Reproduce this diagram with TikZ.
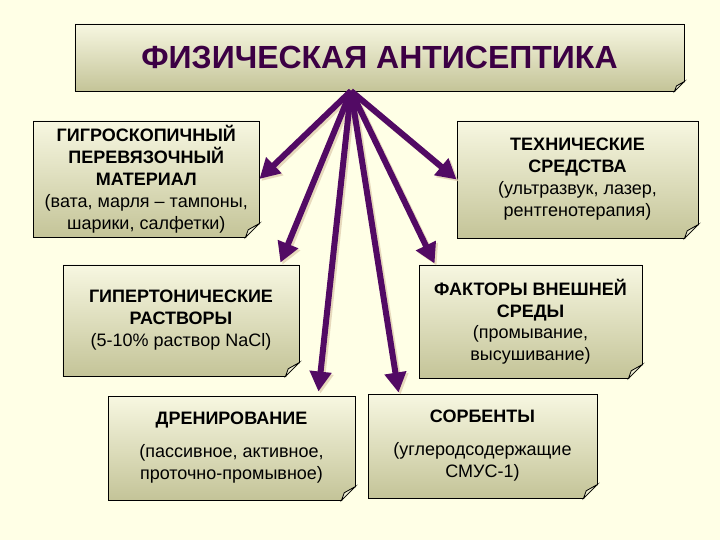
\documentclass[tikz,border=0pt]{standalone}
\usepackage{fontspec}
\setmainfont{Liberation Sans}
\usetikzlibrary{arrows.meta,calc}
\definecolor{bgc}{RGB}{255,255,230}
\definecolor{topc}{RGB}{247,247,225}
\definecolor{botc}{RGB}{196,196,152}
\definecolor{titlec}{RGB}{60,0,68}
\definecolor{arrc}{RGB}{82,10,100}
\definecolor{shadc}{RGB}{225,208,178}
\definecolor{flapc}{RGB}{238,238,212}
\tikzset{
  card/.style={draw=black, line width=0.9bp, top color=topc, bottom color=botc,
    inner sep=0pt, align=center, font=\fontsize{18bp}{22bp}\selectfont},
  arrowline/.style={draw=arrc, line width=6bp, -{Triangle[width=21bp,length=20bp]}},
  arrowshadow/.style={draw=shadc, line width=6bp, -{Triangle[width=21bp,length=20bp]}, opacity=0.8},
}
\newcommand\pagecurl[2]{%
  \fill[bgc] ($(#1.south east)+(-#2-0.5,1.5)$) -- ($(#1.south east)+(1.5,1.5)$) -- ($(#1.south east)+(1.5,-#2-0.5)$) -- cycle;
  \draw[line width=0.8bp, fill=flapc] ($(#1.south east)+(0,-#2)$) .. controls ($(#1.south east)+(-0.45*#2,-0.75*#2)$) .. ($(#1.south east)+(-0.8*#2,-0.55*#2)$) .. controls ($(#1.south east)+(-0.85*#2,-0.3*#2)$) .. ($(#1.south east)+(-#2,0)$) -- cycle;
}
\begin{document}
\begin{tikzpicture}[x=1bp,y=-1bp]
\fill[bgc] (0,0) rectangle (720,540);
\useasboundingbox (0,0) rectangle (720,540);

\node[card, minimum width=609bp, minimum height=67bp, text=titlec,
      font=\fontsize{32bp}{36bp}\selectfont\bfseries] (title) at (379.5,57.5) {ФИЗИЧЕСКАЯ АНТИСЕПТИКА};

\node[card, minimum width=225.5bp, minimum height=116bp] (b1) at (146.25,179)
  {\textbf{ГИГРОСКОПИЧНЫЙ}\\\textbf{ПЕРЕВЯЗОЧНЫЙ}\\\textbf{МАТЕРИАЛ}\\(вата, марля – тампоны,\\шарики, салфетки)};
\node[card, minimum width=241bp, minimum height=117bp] (b2) at (577.5,179.5)
  {\textbf{ТЕХНИЧЕСКИЕ}\\\textbf{СРЕДСТВА}\\(ультразвук, лазер,\\рентгенотерапия)};
\node[card, minimum width=236bp, minimum height=111bp] (b3) at (181,320.5)
  {\textbf{ГИПЕРТОНИЧЕСКИЕ}\\\textbf{РАСТВОРЫ}\\(5-10\% раствор NaCl)};
\node[card, minimum width=223bp, minimum height=113bp, font=\fontsize{18bp}{21.5bp}\selectfont] (b4) at (530.5,321.5)
  {\textbf{ФАКТОРЫ ВНЕШНЕЙ}\\\textbf{СРЕДЫ}\\(промывание,\\высушивание)};
\node[card, minimum width=247bp, minimum height=104bp] (b5) at (231.5,448)
  {\textbf{ДРЕНИРОВАНИЕ}\\[11bp](пассивное, активное,\\проточно-промывное)};
\node[card, minimum width=229bp, minimum height=104bp] (b6) at (482.5,446)
  {\textbf{СОРБЕНТЫ}\\[11bp](углеродсодержащие\\СМУС-1)};

\pagecurl{title}{10}
\pagecurl{b1}{14}
\pagecurl{b2}{14}
\pagecurl{b3}{14}
\pagecurl{b4}{14}
\pagecurl{b5}{14}
\pagecurl{b6}{14}

\coordinate (hub) at (351,91);
\coordinate (t1) at (b1.east);
\coordinate (t2) at (b2.west);
\coordinate (t3) at ($(b3.north east)+(-19,-2)$);
\coordinate (t4) at ($(b4.north west)+(16,-1)$);
\coordinate (t5) at ($(b5.north east)+(-37,-4)$);
\coordinate (t6) at ($(b6.north west)+(31,-1)$);

\foreach \t in {t1,t2,t3,t4,t5,t6}
  \draw[arrowshadow] ($(hub)+(2,2)$) -- ($(\t)+(2,2)$);
\foreach \t in {t1,t2,t3,t4,t5,t6}
  \draw[arrowline] (hub) -- (\t);
\end{tikzpicture}
\end{document}
